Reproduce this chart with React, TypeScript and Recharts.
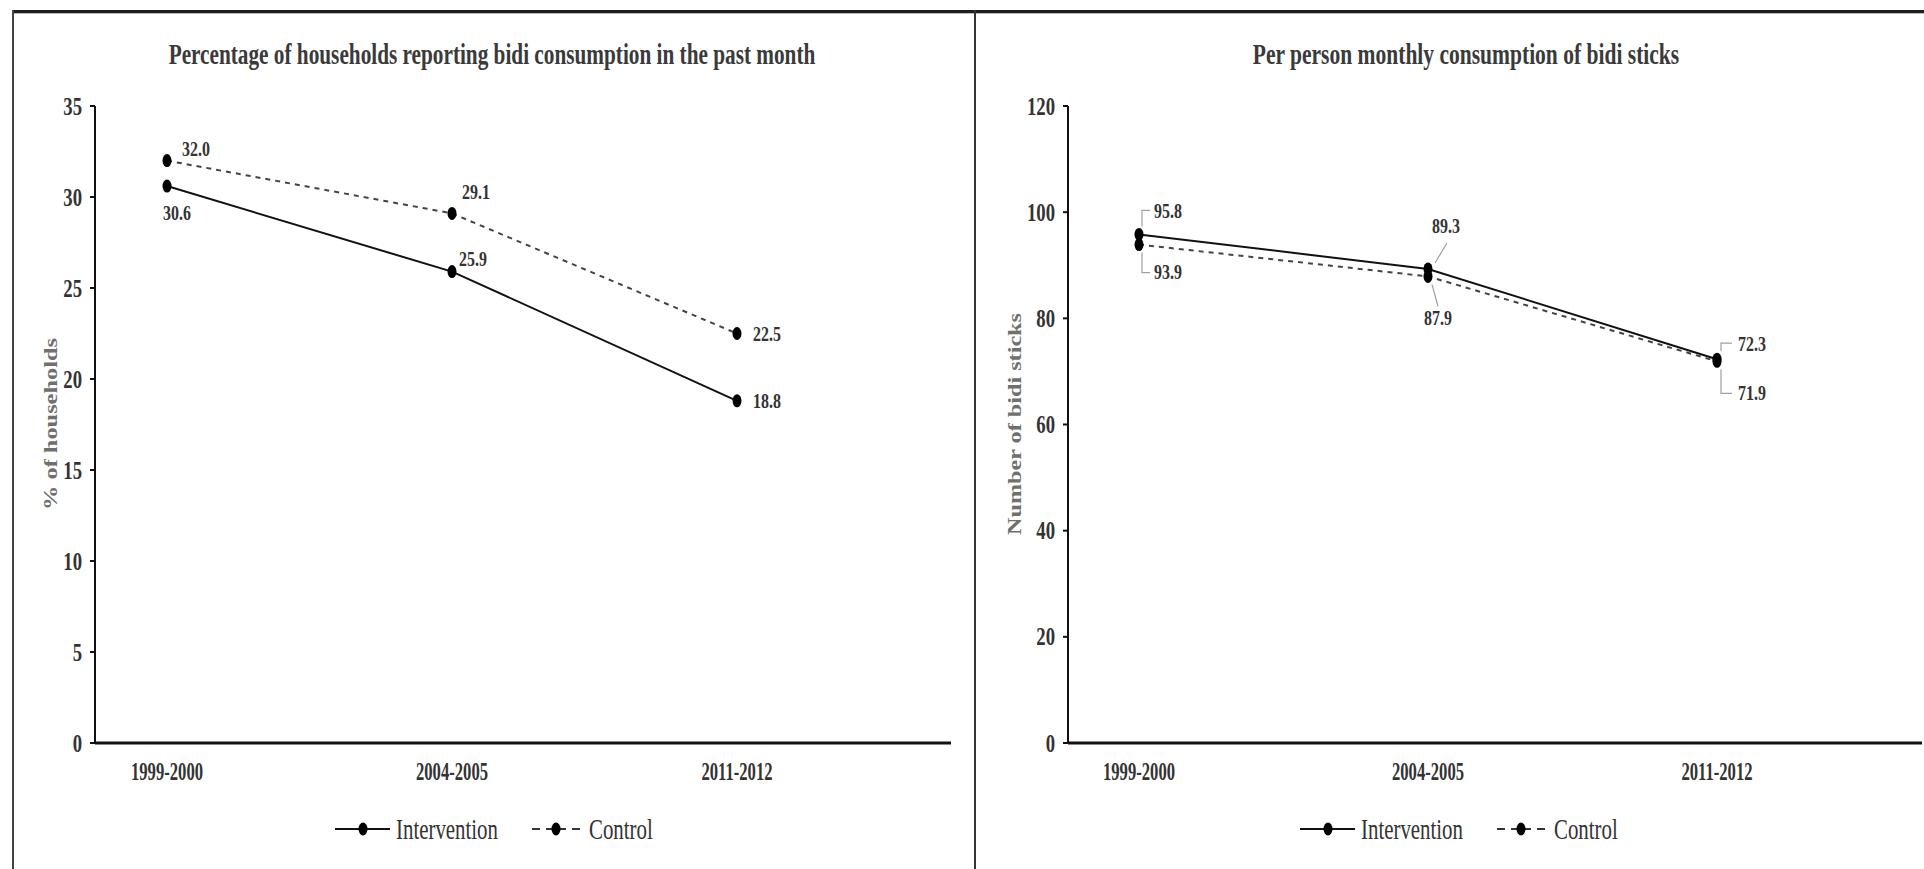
import React from 'react'
import {
  LineChart,
  Line,
  XAxis,
  YAxis,
  LabelList,
  Customized,
} from 'recharts'

const PERIODS = ['1999-2000', '2004-2005', '2011-2012']

// households reporting bidi consumption (%)
const HH_INTERVENTION = [30.6, 25.9, 18.8]
const HH_CONTROL = [32.0, 29.1, 22.5]
const HH_TICKS = [0, 5, 10, 15, 20, 25, 30, 35]

// monthly bidi sticks per person
const STICKS_INTERVENTION = [95.8, 89.3, 72.3]
const STICKS_CONTROL = [93.9, 87.9, 71.9]
const STICKS_TICKS = [0, 20, 40, 60, 80, 100, 120]

const SERIES = [
  { key: 'intervention', name: 'Intervention', stroke: '#111', dash: undefined },
  { key: 'control', name: 'Control', stroke: '#444', dash: '5 5' },
]

const FONT = "'Liberation Serif', 'Times New Roman', serif"

// where each value label sits relative to its point (text start, vertical centre)
type LabelSpot = { dx: number; dy: number; leader?: string }

const HH_LABELS: Record<string, LabelSpot[]> = {
  intervention: [{ dx: -4, dy: 27 }, { dx: 7, dy: -13 }, { dx: 16, dy: 0 }],
  control: [{ dx: 15, dy: -12 }, { dx: 10, dy: -22 }, { dx: 16, dy: 0 }],
}

const STICKS_LABELS: Record<string, LabelSpot[]> = {
  intervention: [
    { dx: 15, dy: -24, leader: 'M3,-8 V-24 H11' },
    { dx: 4, dy: -43, leader: 'M7,-6 L19,-26' },
    { dx: 21, dy: -16, leader: 'M4,-8 V-16 H15' },
  ],
  control: [
    { dx: 15, dy: 27, leader: 'M3,8 V28 H11' },
    { dx: -4, dy: 41, leader: 'M4,8 L10,30' },
    { dx: 21, dy: 31, leader: 'M4,8 V32 H15' },
  ],
}

// squeeze a text to a target width (the source figure is condensed)
let measureCtx: CanvasRenderingContext2D | null = null
function fitScale(text: string, size: number, weight: string, target: number) {
  if (!measureCtx) measureCtx = document.createElement('canvas').getContext('2d')
  if (!measureCtx) return 0.7
  measureCtx.font = `${weight} ${size}px ${FONT}`
  const w = measureCtx.measureText(text).width
  return w > 0 ? target / w : 0.7
}

function SText({ x, y, size, sx = 1, weight = 'normal', anchor = 'start', fill = '#333', children }: any) {
  return (
    <text
      transform={`translate(${x},${y}) scale(${sx},1)`}
      fontFamily={FONT}
      fontSize={size}
      fontWeight={weight}
      textAnchor={anchor}
      dominantBaseline="central"
      fill={fill}
    >
      {children}
    </text>
  )
}

function renderDot(props: any) {
  const { cx, cy, index } = props
  return <ellipse key={`dot-${index}`} cx={cx} cy={cy} rx={4.5} ry={6.5} fill="#000" />
}

function XTick({ x, y, payload }: any) {
  return <SText x={x} y={y + 29} size={26} sx={0.64} weight="bold" anchor="middle">{payload.value}</SText>
}

function YTick({ x, y, payload }: any) {
  return <SText x={x - 8} y={y} size={26} sx={0.72} weight="bold" anchor="end">{payload.value}</SText>
}

function Legend({ cx, y }: { cx: number; y: number }) {
  const left = cx - 160
  return (
    <g>
      <line x1={left} y1={y} x2={left + 55} y2={y} stroke="#111" strokeWidth={2} />
      <ellipse cx={left + 28} cy={y} rx={4.5} ry={6.5} fill="#000" />
      <SText x={left + 61} y={y} size={29} sx={0.72} fill="#333">{SERIES[0].name}</SText>
      <path d={`M${left + 197},${y} h8 M${left + 211},${y} h20 M${left + 237},${y} h8`} stroke="#333" strokeWidth={2} />
      <ellipse cx={left + 221} cy={y} rx={4.5} ry={6.5} fill="#000" />
      <SText x={left + 254} y={y} size={29} sx={0.72} fill="#333">{SERIES[1].name}</SText>
    </g>
  )
}

function Panel(props: any) {
  const {
    left, width, title, titleLen, titleX, yLabel, yLabelLen, yLabelX,
    ticks, inter, ctrl, labels, margin, padding, legendX,
  } = props

  const data = PERIODS.map((p, i) => ({ period: p, intervention: inter[i], control: ctrl[i] }))
  const titleScale = fitScale(title, 30, 'bold', titleLen)

  const makeLabel = (key: string) => (p: any) => {
    const { x, y, value, index } = p
    const spot = labels[key][index]
    return (
      <g key={`lbl-${key}-${index}`}>
        {spot.leader && (
          <path transform={`translate(${x},${y})`} d={spot.leader} stroke="#a0a0a0" strokeWidth={1.2} fill="none" />
        )}
        <SText x={x + spot.dx} y={y + spot.dy} size={21} sx={0.76} weight="bold">
          {Number(value).toFixed(1)}
        </SText>
      </g>
    )
  }

  return (
    <div style={{ position: 'absolute', left, top: 0 }}>
      <LineChart width={width} height={869} data={data} margin={margin}>
        <XAxis
          dataKey="period"
          padding={padding}
          height={60}
          tickSize={0}
          tickMargin={0}
          tickLine={false}
          axisLine={{ stroke: '#111', strokeWidth: 3 }}
          tick={<XTick />}
          interval={0}
        />
        <YAxis
          width={60}
          domain={[ticks[0], ticks[ticks.length - 1]]}
          ticks={ticks}
          tickSize={5}
          tickMargin={0}
          axisLine={{ stroke: '#111', strokeWidth: 2 }}
          tickLine={{ stroke: '#111', strokeWidth: 2 }}
          tick={<YTick />}
          interval={0}
        />
        {SERIES.map((s) => (
          <Line
            key={s.key}
            dataKey={s.key}
            name={s.name}
            stroke={s.stroke}
            strokeWidth={2}
            strokeDasharray={s.dash}
            dot={renderDot}
            activeDot={false}
            isAnimationActive={false}
          >
            <LabelList dataKey={s.key} content={makeLabel(s.key)} />
          </Line>
        ))}
        <Customized
          component={() => (
            <g>
              <SText x={titleX} y={54} size={30} sx={titleScale} weight="bold" anchor="middle" fill="#3a3a3a">
                {title}
              </SText>
              <text
                transform={`translate(${yLabelX},424) rotate(-90)`}
                textAnchor="middle"
                dominantBaseline="central"
                fontFamily={FONT}
                fontSize={19}
                fontWeight="bold"
                fill="#6f6f6f"
                textLength={yLabelLen}
                lengthAdjust="spacingAndGlyphs"
              >
                {yLabel}
              </text>
              <Legend cx={legendX} y={829} />
            </g>
          )}
        />
      </LineChart>
    </div>
  )
}

export default function App() {
  return (
    <div style={{ position: 'absolute', left: 0, top: 0, width: 1924, height: 869, background: '#fff', overflow: 'hidden' }}>
      <Panel
        left={0}
        width={975}
        title="Percentage of households reporting bidi consumption in the past month"
        titleLen={647}
        titleX={492}
        yLabel="% of households"
        yLabelLen={172}
        yLabelX={50}
        ticks={HH_TICKS}
        inter={HH_INTERVENTION}
        ctrl={HH_CONTROL}
        labels={HH_LABELS}
        margin={{ top: 106, right: 24, bottom: 66, left: 35 }}
        padding={{ left: 72, right: 214 }}
        legendX={495}
      />
      <Panel
        left={975}
        width={949}
        title="Per person monthly consumption of bidi sticks"
        titleLen={427}
        titleX={491}
        yLabel="Number of bidi sticks"
        yLabelLen={222}
        yLabelX={39}
        ticks={STICKS_TICKS}
        inter={STICKS_INTERVENTION}
        ctrl={STICKS_CONTROL}
        labels={STICKS_LABELS}
        margin={{ top: 106, right: 2, bottom: 66, left: 33 }}
        padding={{ left: 71, right: 205 }}
        legendX={485}
      />
      {/* frame */}
      <div style={{ position: 'absolute', left: 12, top: 10, width: 1912, height: 3, background: '#1e1e1e' }} />
      <div style={{ position: 'absolute', left: 12, top: 13, width: 1912, height: 1, background: '#bbb' }} />
      <div style={{ position: 'absolute', left: 12, top: 10, width: 2, height: 859, background: '#444' }} />
      <div style={{ position: 'absolute', left: 974, top: 10, width: 2, height: 859, background: '#333' }} />
    </div>
  )
}
